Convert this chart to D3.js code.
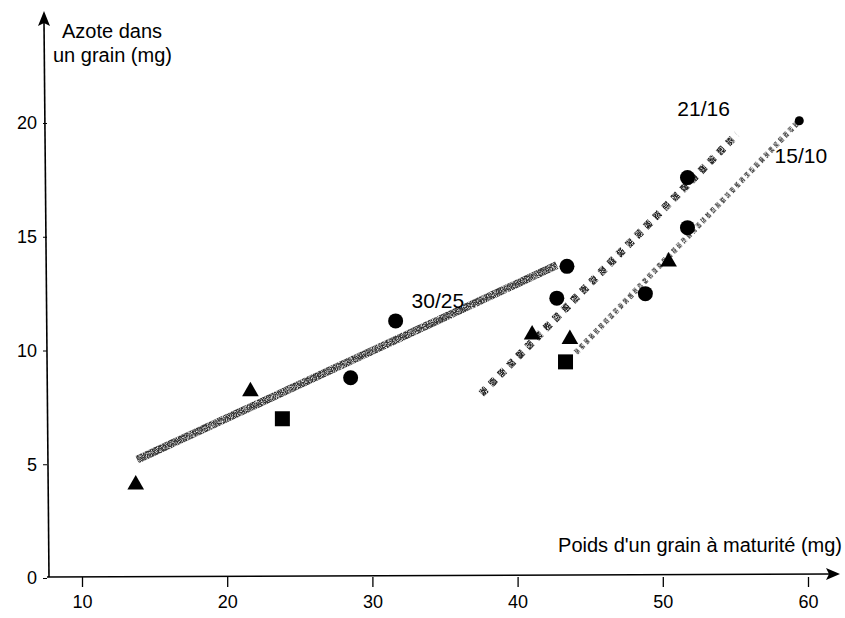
<!DOCTYPE html>
<html>
<head>
<meta charset="utf-8">
<script src="https://cdn.jsdelivr.net/npm/d3@7"></script>
<style>
  html, body { margin: 0; padding: 0; background: #fff; }
  svg { display: block; font-family: "Liberation Sans", Arial, Helvetica, sans-serif; }
</style>
</head>
<body>
<svg id="chart" width="845" height="618"></svg>
<script>
// Axis ticks
const xTicks = [10, 20, 30, 40, 50, 60];
const yTicks = [0, 5, 10, 15, 20];

// Regression lines per temperature regime (day/night °C)
const regimes = ["30/25", "21/16", "15/10"];
const line3025 = [[13.8, 5.2], [42.7, 13.75]];
const line2116 = [[37.5, 8.1], [55.1, 19.5]];
const line1510 = [[44.0, 9.9], [59.4, 20.1]];
const regimeLabelPos = [[32.7, 11.85], [51.0, 20.3], [57.7, 18.25]];

// Observations by cultivar symbol: [grain weight, grain nitrogen]
const triangles = [[13.7, 4.1], [21.6, 8.2], [41.0, 10.7], [43.6, 10.5], [50.4, 13.9]];
const squares = [[23.8, 7.0], [43.3, 9.5]];
const circles = [[28.5, 8.8], [31.6, 11.3], [43.4, 13.7], [42.7, 12.3], [48.8, 12.5], [51.7, 15.4], [51.7, 17.6]];
const endDot = [[59.4, 20.1]];

const svg = d3.select("#chart");
const x = d3.scaleLinear().domain([10, 60]).range([82, 808]);
const y = d3.scaleLinear().domain([0, 20]).range([578, 123]);
const originX = 47, originY = 577;

// Speckled print texture for the fitted lines
const defs = svg.append("defs");
const f = defs.append("filter").attr("id", "grain").attr("x", "-5%").attr("y", "-5%").attr("width", "110%").attr("height", "110%");
f.append("feTurbulence").attr("type", "fractalNoise").attr("baseFrequency", 1.2).attr("numOctaves", 1).attr("seed", 3).attr("result", "n");
f.append("feColorMatrix").attr("in", "n").attr("type", "matrix")
  .attr("values", "0 0 0 0 0  0 0 0 0 0  0 0 0 0 0  2.6 0 0 0 -0.55").attr("result", "m");
f.append("feComposite").attr("in", "SourceGraphic").attr("in2", "m").attr("operator", "in");

// Axes
const xAxis = d3.axisBottom(x).tickValues(xTicks).tickSize(10).tickPadding(8).tickFormat(d3.format("d"));
const gx = svg.append("g").attr("transform", `translate(0,${originY})`).call(xAxis);
gx.select(".domain").remove();
gx.selectAll(".tick line").attr("stroke", "#000").attr("stroke-width", 1.3);
gx.selectAll(".tick text").attr("fill", "#000").attr("font-size", 18).attr("font-family", "Liberation Sans, Arial, sans-serif");

const yAxis = d3.axisLeft(y).tickValues(yTicks).tickSize(4).tickPadding(6).tickFormat(d3.format("d"));
const gy = svg.append("g").attr("transform", `translate(${originX},0)`).call(yAxis);
gy.select(".domain").remove();
gy.selectAll(".tick line").attr("stroke", "#000").attr("stroke-width", 1);
gy.selectAll(".tick text").attr("fill", "#000").attr("font-size", 18).attr("font-family", "Liberation Sans, Arial, sans-serif");

// Axis lines with arrow heads
svg.append("line").attr("x1", originX).attr("y1", originY).attr("x2", 830).attr("y2", originY - 3)
  .attr("stroke", "#000").attr("stroke-width", 1.6);
svg.append("path").attr("d", `M840,${originY - 3} L826,${originY - 9} L829,${originY - 3} L826,${originY + 3} Z`).attr("fill", "#000");
svg.append("line").attr("x1", originX + 2).attr("y1", originY).attr("x2", 44).attr("y2", 22)
  .attr("stroke", "#000").attr("stroke-width", 1.6);
svg.append("path").attr("d", "M44,11 L38,26 L44,23 L50,26 Z").attr("fill", "#000");

// Axis titles
const ytitle = svg.append("text").attr("font-size", 20).attr("fill", "#000");
ytitle.append("tspan").attr("x", 62).attr("y", 38).text("Azote dans");
ytitle.append("tspan").attr("x", 53).attr("y", 62).text("un grain (mg)");
svg.append("text").attr("x", 842).attr("y", 552).attr("text-anchor", "end").attr("font-size", 20)
  .attr("fill", "#000").text("Poids d'un grain à maturité (mg)");

// Fitted lines
const lineGen = d3.line().x(d => x(d[0])).y(d => y(d[1]));
const lineStyles = [
  { data: line3025, width: 8, color: "#333", dash: null },
  { data: line2116, width: 8, color: "#222", dash: "7 6" },
  { data: line1510, width: 6, color: "#555", dash: "4 3" }
];
lineStyles.forEach(s => {
  svg.append("path").datum(s.data).attr("d", lineGen)
    .attr("fill", "none").attr("stroke", s.color).attr("stroke-width", s.width)
    .attr("stroke-dasharray", s.dash).attr("filter", "url(#grain)");
});

// Regime labels
svg.selectAll("text.regime").data(regimes).join("text").attr("class", "regime")
  .attr("x", (d, i) => x(regimeLabelPos[i][0])).attr("y", (d, i) => y(regimeLabelPos[i][1]))
  .attr("font-size", 21).attr("fill", "#000").text(d => d);

// Symbols
svg.selectAll("circle.obs").data(circles).join("circle").attr("class", "obs")
  .attr("cx", d => x(d[0])).attr("cy", d => y(d[1])).attr("r", 7.5).attr("fill", "#000");
svg.selectAll("rect.obs").data(squares).join("rect").attr("class", "obs")
  .attr("x", d => x(d[0]) - 7.5).attr("y", d => y(d[1]) - 7.5).attr("width", 15).attr("height", 15).attr("fill", "#000");
const tri = d3.symbol().type(d3.symbolTriangle).size(120);
svg.selectAll("path.obs").data(triangles).join("path").attr("class", "obs")
  .attr("transform", d => `translate(${x(d[0])},${y(d[1])})`).attr("d", tri).attr("fill", "#000");
svg.selectAll("circle.end").data(endDot).join("circle").attr("class", "end")
  .attr("cx", d => x(d[0])).attr("cy", d => y(d[1])).attr("r", 4.5).attr("fill", "#000");
</script>
</body>
</html>
